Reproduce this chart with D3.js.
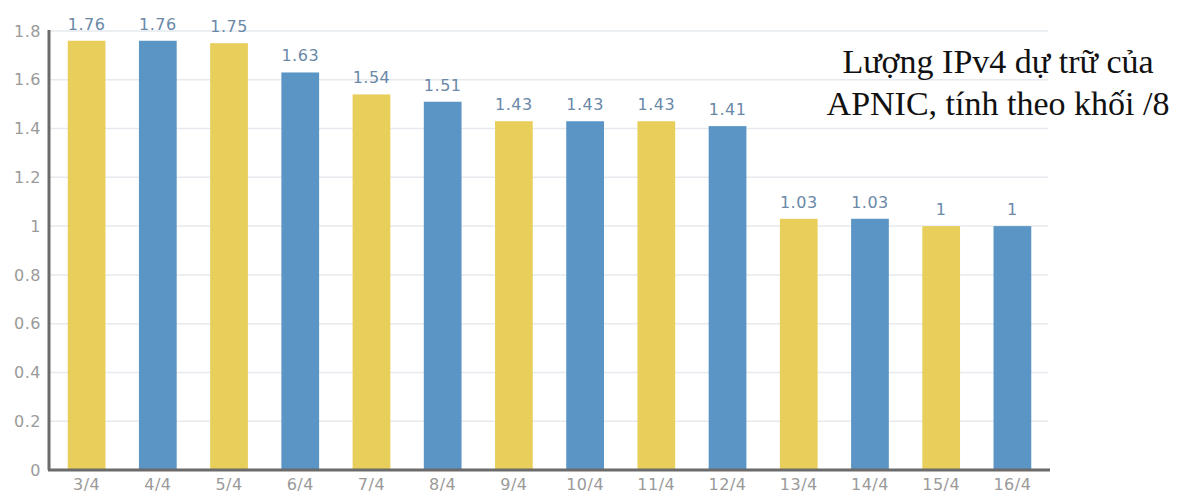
<!DOCTYPE html>
<html>
<head>
<meta charset="utf-8">
<script src="https://cdn.jsdelivr.net/npm/d3@7"></script>
<style>
  body { margin: 0; background: #fff; }
  .tick text { font-family: "DejaVu Sans", sans-serif; letter-spacing: 0.5px; }
</style>
</head>
<body>
<svg id="chart"></svg>
<script>
  // Data
  const days = ["3/4", "4/4", "5/4", "6/4", "7/4", "8/4", "9/4", "10/4", "11/4", "12/4", "13/4", "14/4", "15/4", "16/4"];
  const reserve = [1.76, 1.76, 1.75, 1.63, 1.54, 1.51, 1.43, 1.43, 1.43, 1.41, 1.03, 1.03, 1, 1];
  const barColors = ["#e8cf5c", "#5b95c5"];
  const yTicks = [0, 0.2, 0.4, 0.6, 0.8, 1, 1.2, 1.4, 1.6, 1.8];
  const titleLines = ["Lượng IPv4 dự trữ của", "APNIC, tính theo khối /8"];

  const W = 1178, H = 497;
  const svg = d3.select("#chart").attr("width", W).attr("height", H);

  const x = d3.scaleBand()
    .domain(days)
    .range([51, 1048])
    .paddingInner(0.47)
    .paddingOuter(0.235);

  const y = d3.scaleLinear()
    .domain([0, 1.8])
    .range([470, 31]);

  // grid lines
  svg.append("g")
    .selectAll("line")
    .data(yTicks.filter(d => d > 0))
    .enter()
    .append("line")
    .attr("x1", 50)
    .attr("x2", 1048)
    .attr("y1", d => y(d))
    .attr("y2", d => y(d))
    .attr("stroke", "#e6eaee")
    .attr("stroke-width", 1.5);

  // bars
  svg.selectAll(".bar")
    .data(reserve)
    .enter()
    .append("rect")
    .attr("class", "bar")
    .attr("x", (d, i) => x(days[i]))
    .attr("width", x.bandwidth())
    .attr("y", d => y(d))
    .attr("height", d => y(0) - y(d))
    .attr("fill", (d, i) => barColors[i % 2]);

  // value labels
  svg.selectAll(".label")
    .data(reserve)
    .enter()
    .append("text")
    .attr("class", "label")
    .attr("x", (d, i) => x(days[i]) + x.bandwidth() / 2)
    .attr("y", d => y(d) - 11)
    .attr("text-anchor", "middle")
    .style("font-family", "DejaVu Sans, sans-serif")
    .style("font-size", "16px")
    .style("letter-spacing", "0.5px")
    .attr("fill", "#6a88a8")
    .text(d => d);

  // y axis
  const yAxis = svg.append("g")
    .attr("transform", "translate(49,0)")
    .call(d3.axisLeft(y).tickValues(yTicks).tickSize(0).tickPadding(8).tickFormat(d => String(+d.toFixed(1))));
  yAxis.select(".domain").attr("stroke", "#6b6b6b").attr("stroke-width", 3)
    .attr("d", `M0,${y(1.8) - 1}V${y(0)}`);
  yAxis.selectAll("text").style("font-size", "16px").attr("fill", "#9a9a9a");

  // x axis
  const xAxis = svg.append("g")
    .attr("transform", `translate(0,${y(0)})`)
    .call(d3.axisBottom(x).tickSize(0).tickPadding(9));
  xAxis.select(".domain").attr("stroke", "#6b6b6b").attr("stroke-width", 3)
    .attr("d", "M48,0H1050");
  xAxis.selectAll("text").style("font-size", "16px").attr("fill", "#9a9a9a");

  // title
  svg.append("text")
    .attr("x", 998)
    .attr("y", 73)
    .attr("text-anchor", "middle")
    .style("font-family", "Liberation Serif, Times New Roman, serif")
    .style("font-size", "34px")
    .attr("fill", "#111")
    .selectAll("tspan")
    .data(titleLines)
    .enter()
    .append("tspan")
    .attr("x", 998)
    .attr("dy", (d, i) => i === 0 ? 0 : 42)
    .text(d => d);
</script>
</body>
</html>
